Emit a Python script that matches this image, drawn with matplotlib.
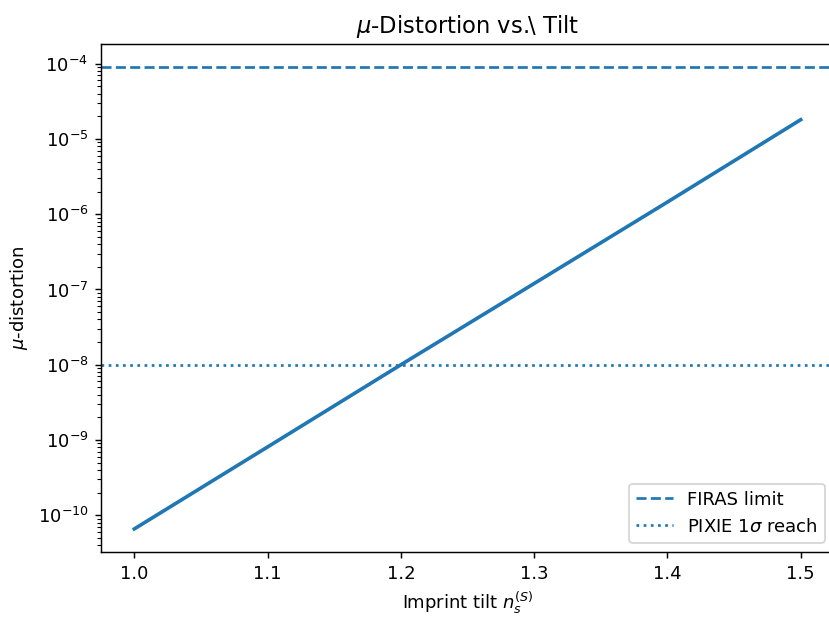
import matplotlib
matplotlib.use("Agg")
import matplotlib.pyplot as plt

# values
tilt = [1.0, 1.1, 1.2, 1.3, 1.4, 1.5]
mu = [6.6e-11, 8.1e-10, 1.0e-8, 1.2e-7, 1.45e-6, 1.8e-5]
firas_limit = 9e-5
pixie_reach = 1e-8

dpi = 130
fig = plt.figure(figsize=(829 / dpi, 618 / dpi), dpi=dpi)
ax = fig.add_axes([101 / 829, 66 / 618, 733 / 829, 508 / 618])

ax.plot(tilt, mu, lw=2)
ax.axhline(firas_limit, ls="--", label="FIRAS limit")
ax.axhline(pixie_reach, ls=":", label=r"PIXIE 1$\sigma$ reach")
ax.set_yscale("log")

ax.set_xlabel(r"Imprint tilt $n_s^{(S)}$")
ax.set_ylabel(r"$\mu$-distortion")
ax.set_title(r"$\mu$-Distortion vs.\ Tilt", fontsize=12.5)
ax.legend(loc="lower right")

fig.savefig("out.png", dpi=dpi)
